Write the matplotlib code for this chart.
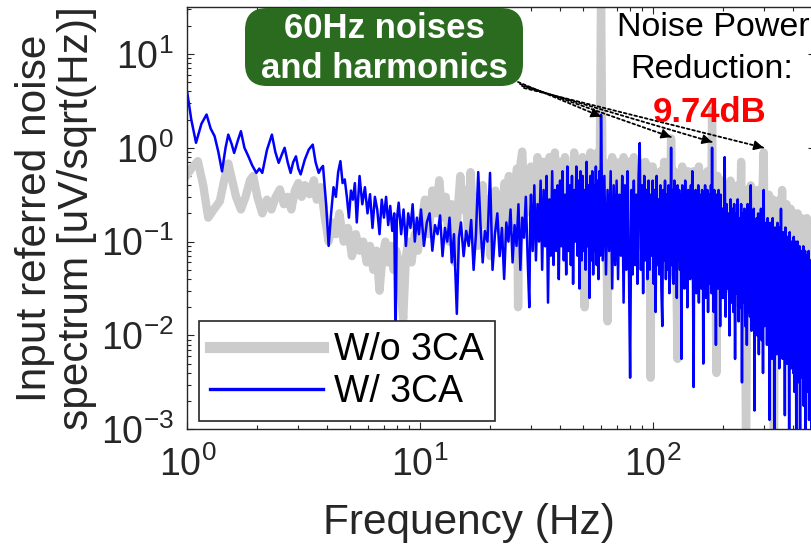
import numpy as np
import matplotlib
matplotlib.use('Agg')
import matplotlib.pyplot as plt
from matplotlib.patches import FancyBboxPatch
from matplotlib.transforms import IdentityTransform
from matplotlib.ticker import LogLocator, FuncFormatter, NullFormatter

plt.rcParams['font.family'] = ['Liberation Sans', 'DejaVu Sans']
plt.rcParams['mathtext.fontset'] = 'custom'
plt.rcParams['mathtext.rm'] = 'Liberation Sans'
plt.rcParams['mathtext.default'] = 'regular'

W, H = 811, 545

# ---- W/o 3CA, 1-30 Hz (Hz, uV/sqrt(Hz)) ----
wo_lo_freq = [1.00, 1.05, 1.11, 1.17, 1.23, 1.30, 1.38, 1.44, 1.50, 1.56,
              1.62, 1.70, 1.78, 1.86, 1.92, 2.00, 2.10, 2.20, 2.30, 2.40,
              2.50, 2.60, 2.70, 2.80, 2.90, 3.00, 3.10, 3.20, 3.35, 3.50,
              3.60, 3.75, 3.90, 4.05, 4.20, 4.35, 4.50, 4.70, 4.90, 5.10,
              5.30, 5.50, 5.70, 5.90, 6.10, 6.30, 6.50, 6.70, 6.90, 7.10,
              7.30, 7.50, 7.70, 7.90, 8.10, 8.47, 8.70, 8.90, 9.20, 9.50,
              9.80, 10.1, 10.5, 10.9, 11.3, 11.7, 12.1, 12.5, 12.9, 13.3,
              13.7, 14.1, 14.5, 14.9, 15.3, 15.7, 16.1, 16.5, 16.9, 17.3,
              17.7, 18.1, 18.6, 19.1, 19.6, 20.1, 20.6, 21.1, 21.6, 22.1,
              22.6, 23.1, 23.6, 24.1, 24.6, 25.1, 25.6, 26.1, 26.4, 26.8,
              27.1, 27.5, 27.9, 28.4, 28.9, 29.4, 29.8]
wo_lo_amp = [0.52, 0.62, 0.72, 0.40, 0.18, 0.22, 0.27, 0.45, 0.68, 0.45,
             0.30, 0.22, 0.30, 0.45, 0.50, 0.30, 0.20, 0.28, 0.22, 0.30,
             0.36, 0.25, 0.30, 0.22, 0.35, 0.42, 0.30, 0.40, 0.32, 0.45,
             0.28, 0.38, 0.18, 0.10, 0.16, 0.12, 0.20, 0.10, 0.14, 0.07,
             0.12, 0.08, 0.10, 0.06, 0.09, 0.05, 0.08, 0.03, 0.07, 0.10,
             0.06, 0.09, 0.05, 0.08, 0.06, 0.015, 0.07, 0.10, 0.06, 0.12,
             0.08, 0.15, 0.28, 0.12, 0.35, 0.20, 0.45, 0.18, 0.30, 0.10,
             0.25, 0.06, 0.20, 0.50, 0.22, 0.35, 0.12, 0.55, 0.20, 0.30,
             0.09, 0.25, 0.40, 0.15, 0.28, 0.07, 0.22, 0.35, 0.14, 0.30,
             0.10, 0.42, 0.20, 0.50, 0.15, 0.35, 0.25, 0.60, 0.02, 0.30,
             0.70, 0.91, 0.40, 0.20, 0.50, 0.30, 0.45]

# ---- W/ 3CA, 1-30 Hz ----
w_lo_freq = [1.00, 1.04, 1.09, 1.15, 1.21, 1.26, 1.31, 1.36, 1.41, 1.46,
             1.50, 1.55, 1.59, 1.65, 1.70, 1.76, 1.83, 1.90, 1.98, 2.04,
             2.10, 2.20, 2.31, 2.39, 2.47, 2.55, 2.62, 2.70, 2.78, 2.85,
             2.93, 3.00, 3.07, 3.20, 3.33, 3.46, 3.56, 3.67, 3.75, 3.83,
             3.95, 4.05, 4.15, 4.25, 4.35, 4.45, 4.55, 4.65, 4.75, 4.85,
             4.95, 5.05, 5.15, 5.25, 5.35, 5.50, 5.65, 5.80, 5.95, 6.10,
             6.25, 6.40, 6.55, 6.70, 6.85, 7.00, 7.15, 7.30, 7.45, 7.60,
             7.75, 7.85, 7.95, 8.10, 8.30, 8.50, 8.70, 8.90, 9.10, 9.30,
             9.50, 9.70, 9.90, 10.1, 10.4, 10.7, 11.0, 11.3, 11.6, 11.9,
             12.2, 12.5, 12.8, 13.1, 13.4, 13.7, 14.0, 14.4, 14.7, 15.0,
             15.4, 15.8, 16.2, 16.6, 17.0, 17.4, 17.8, 18.2, 18.6, 19.0,
             19.5, 20.0, 20.5, 21.0, 21.5, 22.0, 22.5, 23.0, 23.5, 24.0,
             24.5, 25.0, 25.5, 26.0, 26.5, 27.0, 27.5, 28.0, 28.5, 29.0,
             29.5, 29.8]
w_lo_amp = [3.85, 2.00, 1.13, 1.80, 2.26, 1.60, 1.33, 0.90, 0.56, 1.00,
            1.38, 1.10, 0.88, 1.20, 1.50, 1.00, 0.81, 0.65, 0.54, 0.60,
            0.54, 0.95, 1.38, 0.90, 0.69, 0.85, 1.00, 0.70, 0.54, 0.70,
            0.81, 0.60, 0.52, 0.75, 0.96, 1.08, 0.70, 0.54, 0.60, 0.64,
            0.25, 0.09, 0.20, 0.38, 0.30, 0.55, 0.72, 0.42, 0.46, 0.30,
            0.18, 0.35, 0.28, 0.42, 0.16, 0.50, 0.25, 0.38, 0.20, 0.32,
            0.14, 0.30, 0.22, 0.12, 0.28, 0.18, 0.30, 0.15, 0.24, 0.13,
            0.20, 0.0087, 0.17, 0.26, 0.12, 0.22, 0.09, 0.20, 0.14, 0.25,
            0.10, 0.18, 0.12, 0.22, 0.09, 0.16, 0.20, 0.08, 0.15, 0.12,
            0.19, 0.07, 0.14, 0.10, 0.18, 0.06, 0.12, 0.017, 0.11, 0.16,
            0.07, 0.13, 0.09, 0.17, 0.05, 0.12, 0.55, 0.15, 0.06, 0.13,
            0.10, 0.54, 0.05, 0.12, 0.20, 0.07, 0.14, 0.04, 0.16, 0.10,
            0.22, 0.06, 0.15, 0.09, 0.25, 0.05, 0.18, 0.11, 0.30, 0.07,
            0.02, 0.20]

# FFT bins of the dense part of each spectrum
wo_bins = np.concatenate([np.arange(30, 100), np.arange(100, 200, 2), np.arange(200, 501, 4)])
w_bins = np.concatenate([np.arange(30, 60, 0.5), np.arange(60, 200), np.arange(200, 501, 2)])

# dense part in dB re 1 uV/sqrt(Hz)
wo_db = [-4, -15, -2, -13, -3, -18, -2, -12, -1, -16,
         -3, -19, -2, -14, -4, -17, -1, -13, -3, -20,
         -2, -34, -3, -15, -1, -17, -4, -14, -1, -16,
         33, -12, -3, -16, -37, -4, -15, -2, -18, -3,
         -14, -4, -21, -3, -16, -2, -17, -5, -15, -3,
         -19, -4, -16, -2, -18, -5, -15, -3, -17, -4,
         -21, -5, -16, -3, -19, -6, -15, -4, -49, -6,
         # 100-198 Hz
         -4, -20, -6, -17, -5, -22, -3, -18, -6, -21,
         2, -19, -5, -23, -45, -6, -18, -4, -20, -7,
         -22, -5, -19, -7, -24, -5, -18, -6, -21, -4,
         -9, -23, -6, -20, -7, -25, -5, -19, -8, -22,
         8, -21, -7, -24, -48, -6, -20, -8, -26, -7,
         # 200-500 Hz
         -8, -27, -9, -30, -7, -28, -10, -33, -8, -29,
         -3, -31, -9, -66, -10, -28, -8, -34, -11, -30,
         -9, -36, -11, -29, -10, -1, -32, -12, -35, -10,
         -13, -33, -11, -66, -12, -38, -13, -31, -11, -36,
         -9, -34, -14, -39, -12, -32, -15, -41, -13, -35,
         -15, -37, -14, -40, -16, -14, -38, -17, -43, -15,
         -36, -16, -42, -17, -39, -15, -45, -18, -38, -16,
         -44, -17, -40, -18, -46, -17]

w_db = [-10, -22, -8, -24, -12, -20, -7, -26, -9, -21,
        -6, -33, -11, -23, -5, -25, -9, -22, -8, -28,
        -7, -21, -5, -24, -10, -27, -4, -22, -8, -25,
        -6, -29, -9, -20, -4, -23, -7, -30, -5, -24,
        -6, -22, -9, -26, -3, -21, -8, -32, -6, -24,
        -5, -27, -8, -22, -4, -25, -7, -28, -5, -23,
        # 60-199 Hz
        7, -24, -6, -27, -9, -22, -5, -30, -8, -25,
        -7, -28, -10, -23, -6, -33, -8, -26, -5, -24,
        -49, -9, -27, -7, -25, -10, -29, -6, 1, -26,
        -8, -31, -6, -24, -9, -28, -7, -26, -10, -23,
        -7, -29, -9, -35, -6, -25, -11, -27, -8, -30,
        -38, -9, -24, -7, -28, -10, -26, -8, -31, -27,
        0, -25, -9, -29, -7, -26, -11, -32, -8, -24,
        -9, -26, -10, -45, -8, -25, -11, -30, -7, -26,
        -10, -34, -9, -25, -12, -28, -8, -24, -5, -27,
        -51, -10, -29, -9, -31, -11, -26, -8, -33, -12,
        -28, -10, -30, -9, -11, -46, -10, -28, -8, -32,
        -11, -27, -9, -35, -12, -29, -10, -26, -8, -31,
        0, -28, -11, -35, -9, -27, -12, -42, -10, -29,
        -11, -30, -9, -26, -12, -38, -10, -28, -13, -32,
        # 200-500 Hz
        -13, -32, -2, -36, -12, -30, -14, -40, -11, -33,
        -13, -35, -12, -45, -14, -31, -11, -37, -15, -34,
        -12, -50, -14, -33, -13, -38, -15, -42, -12, -35,
        -14, -36, -8, -39, -15, -33, -13, -56, -16, -37,
        -15, -40, -14, -44, -17, -35, -13, -41, -16, -48,
        -9, -38, -16, -36, -17, -42, -15, -39, -18, -58,
        -16, -40, -18, -45, -15, -37, -19, -62, -17, -41,
        -18, -44, -16, -39, -19, -47, -17, -41, -13, -43,
        -19, -45, -18, -40, -20, -57, -17, -43, -21, -46,
        -19, -42, -20, -64, -18, -44, -21, -47, -20, -43,
        -21, -48, -19, -52, -22, -45, -20, -60, -23, -46,
        -20, -47, -22, -50, -21, -63, -23, -46, -22, -49,
        -23, -48, -21, -55, -24, -50, -22, -66, -24, -47,
        -23, -52, -25, -49, -22, -58, -24, -51, -25, -53,
        -24, -62, -26, -50, -23, -54, -25, -52, -26, -65,
        -25]

# arrow targets: 60 Hz line and harmonics
harm_freq = [60, 120, 180, 300]
harm_tip = [2.15, 1.30, 1.15, 1.00]
arrow_start = [(518, 82), (520, 84), (522, 86), (524, 88)]  # image px, y down

wo_freq = np.concatenate([wo_lo_freq, wo_bins])
wo_amp = np.concatenate([wo_lo_amp, 10 ** (np.array(wo_db) / 20)])
w_freq = np.concatenate([w_lo_freq, w_bins])
w_amp = np.concatenate([w_lo_amp, 10 ** (np.array(w_db) / 20)])

txt = '#262626'
fig = plt.figure(figsize=(W / 100, H / 100), dpi=100)
ax = fig.add_axes([187.3 / W, (H - 429.3) / H, 628 / W, 422.6 / H])

ax.loglog(wo_freq, wo_amp, color='#cccccc', lw=6, label='W/o 3CA')
ax.loglog(w_freq, w_amp, color='#0000ff', lw=1.8, label='W/ 3CA')
ax.set_xlim(1, 500)
ax.set_ylim(1e-3, 10 ** 1.503)

sup = FuncFormatter(lambda v, p: r'$10^{%d}$' % round(np.log10(v)))
for axis in (ax.xaxis, ax.yaxis):
    axis.set_major_locator(LogLocator(base=10, numticks=20))
    axis.set_minor_locator(LogLocator(base=10, subs=np.arange(2, 10), numticks=20))
    axis.set_major_formatter(sup)
    axis.set_minor_formatter(NullFormatter())

ax.tick_params(which='both', direction='in', top=True, right=True,
               color=txt, labelcolor=txt, labelsize=27)
ax.tick_params(which='major', length=5, width=0.8)
ax.tick_params(which='minor', length=3, width=0.8)
ax.tick_params(axis='y', pad=10)
ax.tick_params(axis='x', pad=12)
for s in ax.spines.values():
    s.set_color(txt)
    s.set_linewidth(1.0)

ax.set_xlabel('Frequency (Hz)', fontsize=30.5, color=txt, va='top')
ax.xaxis.set_label_coords((469 - 187.3) / 628, (429.3 - 503) / 422.6)
ax.set_ylabel('Input referred noise\nspectrum [uV/sqrt(Hz)]', fontsize=30.5,
              color=txt, linespacing=1.05)
ax.yaxis.set_label_coords((97 - 187.3) / 628, 0.5)

leg = ax.legend(loc='lower left', bbox_to_anchor=((199 - 187.3) / 628, (429.3 - 421) / 422.6),
                borderaxespad=0, fontsize=27, handlelength=3.0, handletextpad=0.3,
                labelspacing=0.15, borderpad=0.3, fancybox=False, framealpha=1)
leg.get_frame().set_edgecolor(txt)
leg.get_frame().set_linewidth(1.2)
leg.get_lines()[0].set_linewidth(8)
leg.get_lines()[1].set_linewidth(2.4)


def px(x, y):
    return (x, H - y)


# dotted pointers from the label box to the 60 Hz line and its harmonics
for f, v, (sx, sy) in zip(harm_freq, harm_tip, arrow_start):
    tip = ax.transData.transform((f, v))
    start = np.array(px(sx, sy), dtype=float)
    u = (tip - start) / np.hypot(*(tip - start))
    ax.annotate('', xy=tip, xycoords='figure pixels', xytext=start,
                textcoords='figure pixels',
                arrowprops=dict(arrowstyle='-', ls=(0, (1.5, 1.5)), lw=1.3,
                                color='k', shrinkA=0, shrinkB=0))
    ax.annotate('', xy=tip, xycoords='figure pixels', xytext=tip - 9 * u,
                textcoords='figure pixels',
                arrowprops=dict(arrowstyle='-|>,head_length=0.6,head_width=0.3',
                                lw=1, color='k', shrinkA=0, shrinkB=0))

idt = IdentityTransform()
box = FancyBboxPatch(px(245, 86), 278, 78, boxstyle='round,pad=0,rounding_size=22',
                     transform=idt, fc='#2b6b1f', ec='none')
fig.add_artist(box)
fig.text(*px(384, 38), '60Hz noises', transform=idt, ha='center', va='baseline',
         fontsize=25, fontweight='bold', color='white')
fig.text(*px(384, 78), 'and harmonics', transform=idt, ha='center', va='baseline',
         fontsize=25, fontweight='bold', color='white')

fig.text(*px(713, 36), 'Noise Power', transform=idt, ha='center', va='baseline',
         fontsize=24.5, color='black')
fig.text(*px(712, 78), 'Reduction:', transform=idt, ha='center', va='baseline',
         fontsize=24.5, color='black')
fig.text(*px(710, 122), '9.74dB', transform=idt, ha='center', va='baseline',
         fontsize=25, fontweight='bold', color='#ff0000')

fig.savefig('out.png', dpi=100)
